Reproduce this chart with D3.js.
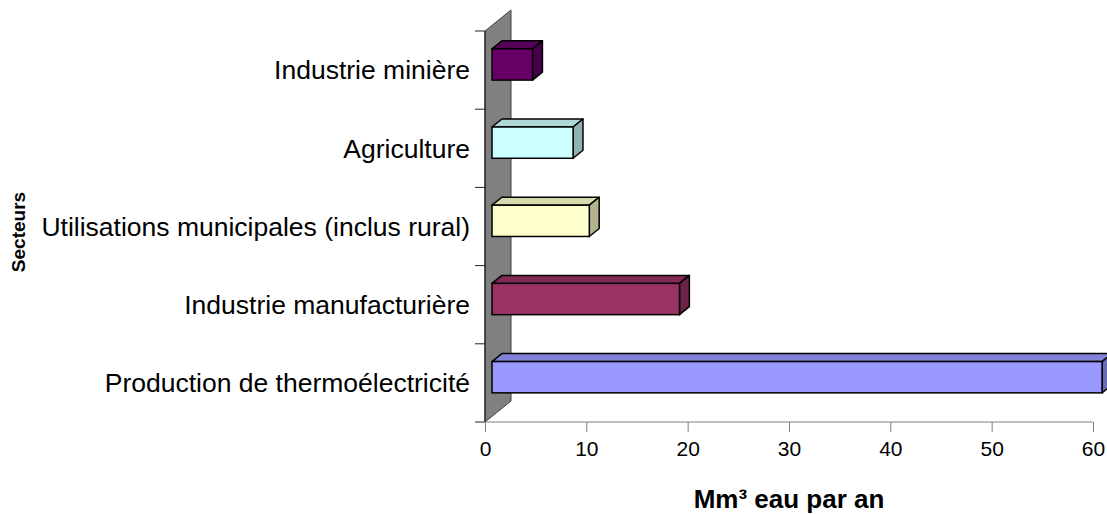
<!DOCTYPE html>
<html>
<head>
<meta charset="utf-8">
<script src="https://cdn.jsdelivr.net/npm/d3@7"></script>
<style>
  body { margin: 0; background: #fff; }
  text { font-family: "Liberation Sans", Arial, sans-serif; }
</style>
</head>
<body>
<script>
// data, top to bottom
var sectors = ["Industrie minière", "Agriculture", "Utilisations municipales (inclus rural)",
               "Industrie manufacturière", "Production de thermoélectricité"];
var volumes = [4.0, 8.0, 9.6, 18.5, 60.2];
var fills = ["#660066", "#CCFFFF", "#FFFFCC", "#993366", "#9999FF"];
var xTicks = [0, 10, 20, 30, 40, 50, 60];

var width = 1107, height = 514;
var x0 = 485, x1 = 1093, yTop = 31, yBot = 422;
var depthX = 26, depthY = -21;      // wall depth
var barFront = 0.27, barBack = 0.65; // bar depth range as fraction of wall depth

var x = d3.scaleLinear().domain([0, 60]).range([x0, x1]);
var y = d3.scaleBand().domain(sectors).range([yTop, yBot]).paddingInner(0.6).paddingOuter(0.3);
var yLab = d3.scaleBand().domain(sectors).range([yTop, yBot]);

var svg = d3.select("body").append("svg")
    .attr("width", width)
    .attr("height", height);

// back wall
svg.append("path")
    .attr("d", "M" + x0 + "," + yBot + "L" + x0 + "," + yTop +
               "L" + (x0 + depthX) + "," + (yTop + depthY) +
               "L" + (x0 + depthX) + "," + (yBot + depthY) + "Z")
    .style("fill", "#808080")
    .style("stroke", "#404040")
    .style("stroke-width", 1);

// y axis ticks
svg.append("line")
    .attr("x1", x0).attr("x2", x0).attr("y1", yTop).attr("y2", yBot)
    .style("stroke", "#222").style("stroke-width", 1.2);
svg.selectAll(".ytick")
    .data(d3.range(sectors.length + 1))
    .enter().append("line")
    .attr("x1", x0 - 10).attr("x2", x0)
    .attr("y1", function(i) { return yTop + i * yLab.step(); })
    .attr("y2", function(i) { return yTop + i * yLab.step(); })
    .style("stroke", "#222").style("stroke-width", 1);

// x axis
var xAxis = svg.append("g")
    .attr("transform", "translate(0," + yBot + ")")
    .call(d3.axisBottom(x).tickValues(xTicks).tickSize(10).tickPadding(9));
xAxis.select(".domain").style("stroke", "#808080").attr("d", "M" + x0 + ",0H" + x1);
xAxis.selectAll(".tick line").style("stroke", "#808080");
xAxis.selectAll("text")
    .style("font-size", "21px")
    .style("font-family", "'Liberation Sans', Arial, sans-serif")
    .style("fill", "#000");

// 3d bars
var dfx = depthX * barFront, dfy = depthY * barFront;
var dbx = depthX * barBack, dby = depthY * barBack;
var bars = svg.selectAll(".bar")
    .data(sectors)
    .enter().append("g")
    .attr("class", "bar");

function shade(c, k) { return d3.rgb(c).darker(k).toString(); }

bars.each(function(d, i) {
    var g = d3.select(this);
    var left = x(0) + dfx, right = x(volumes[i]) + dfx;
    var top = y(d) + dfy + (yLab(d) + yLab.bandwidth() / 2 - (y(d) + y.bandwidth() / 2)),
        bot = top + y.bandwidth();
    var ox = dbx - dfx, oy = dby - dfy;
    // top face
    g.append("path")
        .attr("d", "M" + left + "," + top + "L" + (left + ox) + "," + (top + oy) +
                   "L" + (right + ox) + "," + (top + oy) + "L" + right + "," + top + "Z")
        .style("fill", shade(fills[i], 0.45))
        .style("stroke", "#000").style("stroke-width", 1.5).style("stroke-linejoin", "round");
    // side face
    g.append("path")
        .attr("d", "M" + right + "," + top + "L" + (right + ox) + "," + (top + oy) +
                   "L" + (right + ox) + "," + (bot + oy) + "L" + right + "," + bot + "Z")
        .style("fill", shade(fills[i], 1.0))
        .style("stroke", "#000").style("stroke-width", 1.5).style("stroke-linejoin", "round");
    // front face
    g.append("rect")
        .attr("x", left).attr("y", top)
        .attr("width", right - left).attr("height", bot - top)
        .style("fill", fills[i])
        .style("stroke", "#000").style("stroke-width", 1.5);
});

// category labels
svg.selectAll(".cat")
    .data(sectors)
    .enter().append("text")
    .attr("x", 470)
    .attr("y", function(d) { return yLab(d) + yLab.bandwidth() / 2; })
    .attr("dy", "0.35em")
    .style("text-anchor", "end")
    .style("font-size", "26.5px")
    .text(function(d) { return d; });

// axis titles
svg.append("text")
    .attr("x", 789).attr("y", 508)
    .style("text-anchor", "middle")
    .style("font-size", "26px")
    .style("font-weight", "bold")
    .text("Mm³ eau par an");

svg.append("text")
    .attr("transform", "translate(25,232) rotate(-90)")
    .style("text-anchor", "middle")
    .style("font-size", "19px")
    .style("font-weight", "bold")
    .text("Secteurs");
</script>
</body>
</html>
